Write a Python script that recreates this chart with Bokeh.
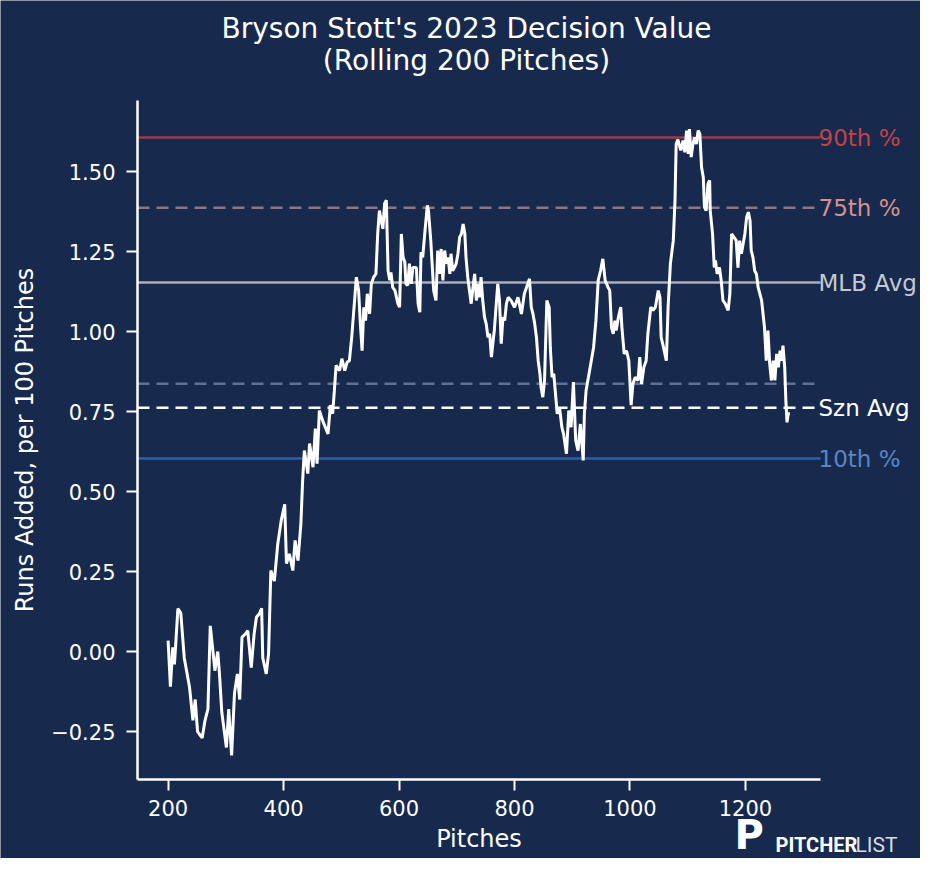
from bokeh.plotting import figure
from bokeh.models import Label, Range1d, FixedTicker
from bokeh.embed import file_html
from bokeh.resources import INLINE

# rolling 200-pitch decision value
pitches = [200, 204, 208, 211, 217, 222, 228, 237, 243, 247, 251, 259, 264, 269, 273, 277,
           281, 286, 289, 293, 301, 305, 310, 315, 320, 324, 328, 334, 338, 344, 349, 353,
           358, 362, 364, 370, 374, 378, 384, 390, 396, 402, 405, 410, 416, 420, 425, 430,
           433, 436, 442, 445, 451, 455, 458, 462, 468, 477, 481, 485,
           488, 491, 497, 501, 506, 510, 514, 518, 523, 526, 530, 533, 536, 539, 542, 545,
           549, 552, 556, 560, 563, 566, 569, 572, 575, 578, 581, 584, 586, 589, 593, 598,
           601, 604, 607, 610, 612, 615, 618, 621, 624, 630, 633, 636, 638, 641, 645, 649,
           651, 655, 658, 660, 664, 667, 670, 673, 676, 679, 682, 685, 688, 690, 693, 696,
           699, 702, 705, 708, 711, 714, 716, 719, 722, 725, 728, 731, 734, 737, 740, 742,
           745, 748, 751, 754, 757, 760, 763, 765, 768, 771, 774, 777, 780, 783, 786, 789,
           794, 800, 806, 812,
           817, 826, 829, 832, 835, 838, 841, 844, 846, 849, 852, 856, 860, 862, 865, 868,
           871, 874, 878, 882, 885, 890, 894, 898, 902, 906, 910, 914, 919, 921, 924, 928,
           933, 937, 941, 945, 949, 953, 957, 962, 965, 968, 971, 974, 976, 980, 984, 986,
           990, 994, 998, 1002, 1005, 1009, 1014, 1017, 1020, 1024, 1028, 1031, 1036, 1040,
           1044, 1049, 1052, 1054, 1058, 1063, 1066, 1070,
           1075, 1078, 1080, 1083, 1088, 1092, 1095, 1098, 1101, 1103, 1106, 1109, 1112, 1115,
           1118, 1121, 1124, 1127, 1129, 1132, 1135, 1138, 1139, 1143, 1146, 1148, 1151, 1155,
           1158, 1161, 1165, 1170, 1173, 1176, 1180, 1184, 1187, 1190, 1193, 1196, 1199, 1202,
           1205, 1208, 1210, 1213, 1216, 1219, 1222, 1228, 1233, 1236, 1239, 1242, 1245, 1248,
           1251, 1254, 1257, 1260, 1263, 1265, 1268, 1270, 1272, 1274, 1277]
runs_added = [0.034, -0.11, 0.013, -0.04, 0.134, 0.12, -0.02, -0.11, -0.215, -0.15, -0.25, -0.27,
              -0.215, -0.18, 0.08, 0.013, -0.06, 0.0, -0.07, -0.19, -0.30, -0.18, -0.325, -0.13,
              -0.07, -0.15, 0.045, 0.055, 0.065, -0.05, 0.055, 0.107, 0.118, 0.135, -0.02, -0.07,
              -0.007, 0.253, 0.22, 0.337, 0.41, 0.46, 0.275, 0.305, 0.253, 0.347, 0.284, 0.40,
              0.534, 0.628, 0.556, 0.65, 0.576, 0.697, 0.587, 0.753, 0.72, 0.68, 0.77, 0.743,
              0.816, 0.894, 0.878, 0.915, 0.878, 0.904, 0.909, 0.982, 1.097, 1.17, 1.128, 1.024,
              0.94, 1.076, 1.034, 1.118, 1.055, 1.149, 1.17, 1.18, 1.305, 1.378, 1.347, 1.321,
              1.40, 1.41, 1.19, 1.16, 1.185, 1.138, 1.128, 1.087, 1.076, 1.305, 1.232, 1.217,
              1.149, 1.144, 1.212, 1.149, 1.20, 1.20, 1.087, 1.06, 1.248, 1.232, 1.316, 1.394,
              1.378, 1.284, 1.19, 1.128, 1.097, 1.253, 1.18, 1.258, 1.16, 1.253, 1.212, 1.232,
              1.18, 1.243, 1.19, 1.20, 1.212, 1.243, 1.295, 1.305, 1.336, 1.305, 1.232, 1.17,
              1.128, 1.087, 1.138, 1.18, 1.097, 1.149, 1.107, 1.17, 1.097, 1.045, 1.024, 0.982,
              0.993, 0.92, 0.972, 1.003, 1.076, 1.149, 1.097, 0.962, 1.045, 1.034, 1.087, 1.107,
              1.097, 1.076, 1.107, 1.055,
              1.118, 1.165, 1.076, 1.055, 1.024, 0.982, 0.909, 0.868, 0.826, 0.795, 0.847, 1.097,
              1.076, 0.951, 0.857, 0.868, 0.805, 0.743, 0.763, 0.701, 0.68, 0.618, 0.753, 0.701,
              0.842, 0.66, 0.628, 0.711, 0.597, 0.743, 0.816, 0.857, 0.909, 0.951, 1.034, 1.16,
              1.19, 1.227, 1.16, 1.138, 1.128, 1.013, 0.993, 1.034, 1.003, 1.045, 1.076, 1.013,
              0.93, 0.94, 0.909, 0.77, 0.836, 0.857, 0.847, 0.92, 0.836, 0.888, 0.909, 0.993,
              1.076, 1.066, 1.076, 1.128, 1.107, 0.982, 0.951, 0.909, 1.076, 1.212,
              1.284, 1.41, 1.586, 1.60, 1.566, 1.597, 1.56, 1.628, 1.555, 1.633, 1.545, 1.586,
              1.607, 1.586, 1.628, 1.618, 1.513, 1.482, 1.388, 1.378, 1.461, 1.472, 1.378, 1.305,
              1.20, 1.222, 1.18, 1.20, 1.16, 1.097, 1.087, 1.066, 1.118, 1.305, 1.295, 1.284,
              1.20, 1.284, 1.243, 1.274, 1.305, 1.357, 1.373, 1.347, 1.253, 1.232, 1.19, 1.18,
              1.138, 1.097, 1.013, 0.909, 1.003, 0.899, 0.847, 0.909, 0.847, 0.93, 0.888, 0.94,
              0.909, 0.956, 0.888, 0.784, 0.716, 0.743, 0.743]

# reference levels
ref_names = ["90th %", "75th %", "MLB Avg", "", "Szn Avg", "10th %"]
ref_values = [1.606, 1.387, 1.153, 0.837, 0.762, 0.603]
ref_line_colors = ["#9c3a46", "#8f7482", "#a9afbb", "#5f7197", "#ffffff", "#2f60a6"]
ref_text_colors = ["#c0434a", "#d8908f", "#c4c8d0", "#5f7197", "#ffffff", "#5a85c4"]
ref_dashes = ["solid", "12 7", "solid", "12 7", "12 7", "solid"]

x_ticks = [200, 400, 600, 800, 1000, 1200]
y_ticks = [-0.25, 0.0, 0.25, 0.5, 0.75, 1.0, 1.25, 1.5]
x_lim = (147, 1330)
y_lim = (-0.40, 1.722)

BG = "#172a4d"
FONT = "DejaVu Sans"

# the frame fills the whole canvas so the side texts are not clipped;
# the axes are pinned where matplotlib put its spines
W, H = 920, 858
AX_L, AX_R, AX_T, AX_B = 137, 820, 100, 779
sx = (AX_R - AX_L) / (x_lim[1] - x_lim[0])
sy = (AX_B - AX_T) / (y_lim[1] - y_lim[0])
x_range = Range1d(x_lim[0] - AX_L / sx, x_lim[1] + (W - AX_R) / sx)
y_range = Range1d(y_lim[0] - (H - AX_B) / sy, y_lim[1] + AX_T / sy)

p = figure(width=W, height=H, output_backend="svg", toolbar_location=None,
           x_range=x_range, y_range=y_range, min_border=0)
p.background_fill_color = BG
p.border_fill_color = BG
p.outline_line_color = None
p.grid.visible = False

for ax in (p.xaxis, p.yaxis):
    ax.axis_line_color = "white"
    ax.axis_line_width = 2.5
    ax.major_tick_line_color = "white"
    ax.major_tick_line_width = 2
    ax.major_tick_out = 11
    ax.major_tick_in = 0
    ax.minor_tick_line_color = None
    ax.major_label_text_color = "white"
    ax.major_label_text_font = FONT
    ax.major_label_text_font_size = "21px"
    ax.axis_label_text_color = "white"
    ax.axis_label_text_font = FONT
    ax.axis_label_text_font_size = "24px"
    ax.axis_label_text_font_style = "normal"

p.xaxis.fixed_location = y_lim[0]
p.yaxis.fixed_location = x_lim[0]
p.xaxis.bounds = x_lim
p.yaxis.bounds = y_lim
p.xaxis.ticker = FixedTicker(ticks=x_ticks)
p.yaxis.ticker = FixedTicker(ticks=y_ticks)
p.yaxis.major_label_overrides = {t: f"{t:.2f}".replace("-", "\u2212") for t in y_ticks}
p.xaxis.axis_label = "Pitches"
p.yaxis.axis_label = "Runs Added, per 100 Pitches"
p.xaxis.major_label_standoff = 9
p.yaxis.major_label_standoff = 11
p.xaxis.axis_label_standoff = 6
p.yaxis.axis_label_standoff = 9

for name, val, lc, tc, dash in zip(ref_names, ref_values, ref_line_colors, ref_text_colors, ref_dashes):
    p.segment(x0=x_lim[0], x1=x_lim[1], y0=val, y1=val, line_color=lc, line_width=2.5,
              line_dash=dash)
    if name:
        p.add_layout(Label(x=x_lim[1], y=val, x_offset=-2, text=name, text_color=tc,
                           text_font=FONT, text_font_size="23px", text_baseline="middle"))

p.line(pitches, runs_added, line_color="white", line_width=3)

# two-line title
p.add_layout(Label(x=466, y=H - 28, x_units="screen", y_units="screen",
                   text="Bryson Stott's 2023 Decision Value", text_align="center",
                   text_baseline="middle", text_color="white", text_font=FONT,
                   text_font_size="28px"))
p.add_layout(Label(x=466, y=H - 60, x_units="screen", y_units="screen",
                   text="(Rolling 200 Pitches)", text_align="center",
                   text_baseline="middle", text_color="white", text_font=FONT,
                   text_font_size="28px"))

# PitcherList mark
p.add_layout(Label(x=734, y=1, x_units="screen", y_units="screen", text="P",
                   text_color="white", text_font=FONT, text_font_style="bold",
                   text_font_size="40px", text_baseline="bottom"))
p.add_layout(Label(x=775, y=2, x_units="screen", y_units="screen", text="PITCHER",
                   text_color="white", text_font="Roboto", text_font_style="bold",
                   text_font_size="20px"))
p.add_layout(Label(x=855, y=2, x_units="screen", y_units="screen", text="LIST",
                   text_color="#d8dbe2", text_font="Roboto", text_font_size="21px"))

open("out.html", "w").write(file_html(p, INLINE))
